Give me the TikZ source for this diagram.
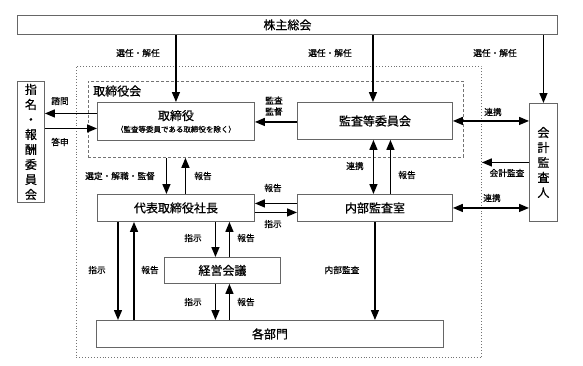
\documentclass[tikz,border=0pt]{standalone}
\usepackage{fontspec}
\setmainfont[FakeBold=0.6]{Noto Sans CJK JP}
\usetikzlibrary{arrows.meta}
\begin{document}
\begin{tikzpicture}[x=1pt,y=-1pt,
  box/.style={draw=black!60, line width=0.9pt, fill=white, inner sep=0pt, anchor=north west, font=\fontsize{12}{14}\selectfont},
  arr/.style={-{Triangle[length=10pt,width=8pt]}, line width=1.4pt},
  darr/.style={{Triangle[length=10pt,width=8pt]}-{Triangle[length=10pt,width=8pt]}, line width=1.4pt},
  lbl/.style={font=\fontsize{8.7}{11}\selectfont, inner sep=0pt, align=center},
  vtext/.style={align=center, font=\fontsize{12}{15}\selectfont}]
\useasboundingbox (0,0) rectangle (583,365);
% frames
\node[draw=black!55, line width=0.9pt, dotted, inner sep=0pt, anchor=north west, minimum width=405pt, minimum height=291pt] (outer) at (76,66) {};
\node[draw=black!55, line width=0.8pt, dash pattern=on 3pt off 2pt, inner sep=0pt, anchor=north west, minimum width=375pt, minimum height=76pt] (torikai) at (88,81) {};
\node[anchor=west, inner sep=0pt, font=\fontsize{12}{14}\selectfont] (torikailbl) at (93,91) {取締役会};
% boxes
\node[box, minimum width=540pt, minimum height=19pt] (kabu) at (17,15) {株主総会};
\node[box, minimum width=157pt, minimum height=38pt, align=center] (tori) at (97,102) {取締役\\[-2pt]{\fontsize{7.5}{9}\selectfont （監査等委員である取締役を除く）}};
\node[box, minimum width=155pt, minimum height=37pt] (kansa) at (297,102) {監査等委員会};
\node[box, minimum width=27pt, minimum height=121pt, vtext] (shimei) at (17,81) {指\\名\\・\\報\\酬\\委\\員\\会};
\node[box, minimum width=28pt, minimum height=118pt, vtext] (kaikei) at (529,103) {会\\計\\監\\査\\人};
\node[box, minimum width=157pt, minimum height=27pt] (daihyo) at (97,194) {代表取締役社長};
\node[box, minimum width=155pt, minimum height=27pt] (naibu) at (297,194) {内部監査室};
\node[box, minimum width=116pt, minimum height=26pt] (keiei) at (164,257) {経営会議};
\node[box, minimum width=347pt, minimum height=27pt] (kakubu) at (96,320) {各部門};
% arrows from 株主総会
\draw[arr] (kabu.south -| tori.north) -- (tori.north);
\draw[arr] ([xshift=-2pt]kabu.south -| kansa.north) -- ([xshift=-2pt]kansa.north);
\draw[arr] (kabu.south -| kaikei.north) -- (kaikei.north);
% 取締役 <-> 指名・報酬委員会
\draw[arr] ([yshift=8pt]tori.west) coordinate (a1) -- (shimei.east |- a1);
\draw[arr] ([yshift=-7pt]tori.west -| shimei.east) coordinate (a2) -- (a2 -| tori.west);
% 監査等委員会 -> 取締役
\draw[arr] ([yshift=-1pt]kansa.west) coordinate (a3) -- (a3 -| tori.east);
% 連携 監査等委員会 <-> 会計監査人
\draw[darr] (kansa.east) coordinate (a4) -- (a4 -| kaikei.west);
% 会計監査
\draw[arr] (kaikei.west) coordinate (a5) -- (a5 -| outer.east);
% 監査等委員会 <-> 内部監査室
\draw[darr] ([xshift=-1.5pt]kansa.south) coordinate (a6) -- (a6 |- naibu.north);
\draw[arr] ([xshift=15.5pt]naibu.north) coordinate (a7) -- (a7 |- kansa.south);
% 取締役会 <-> 代表取締役社長
\draw[arr] ([xshift=-9.5pt]daihyo.north |- torikai.south) coordinate (a8) -- (a8 |- daihyo.north);
\draw[arr] ([xshift=9.5pt]daihyo.north) coordinate (a9) -- (a9 |- torikai.south);
% 内部監査室 <-> 代表取締役社長
\draw[arr] ([yshift=4.5pt]naibu.west) coordinate (a10) -- (a10 -| daihyo.east);
\draw[arr] ([yshift=-4.5pt]daihyo.east) coordinate (a11) -- (a11 -| naibu.west);
% 連携 内部監査室 <-> 会計監査人
\draw[darr] (naibu.east) coordinate (a12) -- (a12 -| kaikei.west);
% 代表 <-> 経営会議
\draw[arr] ([xshift=-7pt]keiei.north |- daihyo.south) coordinate (a13) -- (a13 |- keiei.north);
\draw[arr] ([xshift=7pt]keiei.north) coordinate (a14) -- (a14 |- daihyo.south);
% 経営会議 <-> 各部門
\draw[arr] ([xshift=-7pt]keiei.south) coordinate (a15) -- (a15 |- kakubu.north);
\draw[arr] ([xshift=7pt]keiei.south |- kakubu.north) coordinate (a16) -- (a16 |- keiei.south);
% 代表 <-> 各部門 (left)
\draw[arr] ([xshift=21pt]daihyo.south west) coordinate (a17) -- (a17 |- kakubu.north);
\draw[arr] ([xshift=37pt]daihyo.south west |- kakubu.north) coordinate (a18) -- (a18 |- daihyo.south);
% 内部監査
\draw[arr] (naibu.south) coordinate (a19) -- (a19 |- kakubu.north);
% labels
\node[lbl] (l1) at (138,53) {選任・解任};
\node[lbl] (l2) at (330,53) {選任・解任};
\node[lbl] (l3) at (495,53) {選任・解任};
\node[lbl] (l4) at (60,101) {諮問};
\node[lbl] (l5) at (60,142) {答申};
\node[lbl] (l6) at (274,106) {監査\\監督};
\node[lbl] (l7) at (493,112) {連携};
\node[lbl] (l8) at (507,173) {会計監査};
\node[lbl] (l9) at (355,166) {連携};
\node[lbl] (l10) at (407,175) {報告};
\node[lbl] (l11) at (120,176) {選定・解職・監督};
\node[lbl] (l12) at (203,176) {報告};
\node[lbl] (l13) at (273,188) {報告};
\node[lbl] (l14) at (273,224) {指示};
\node[lbl] (l15) at (492,198) {連携};
\node[lbl] (l16) at (193,238) {指示};
\node[lbl] (l17) at (246,238) {報告};
\node[lbl] (l18) at (97,270) {指示};
\node[lbl] (l19) at (150,270) {報告};
\node[lbl] (l20) at (193,302) {指示};
\node[lbl] (l21) at (246,302) {報告};
\node[lbl] (l22) at (342,270) {内部監査};
\end{tikzpicture}
\end{document}
